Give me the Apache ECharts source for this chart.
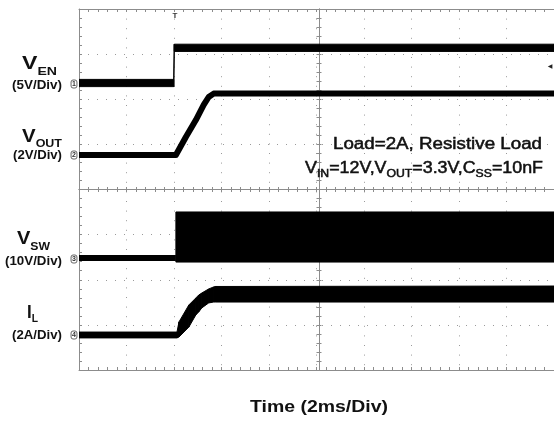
<!DOCTYPE html>
<html><head><meta charset="utf-8">
<script src="https://cdn.jsdelivr.net/npm/echarts@6/dist/echarts.min.js"></script>
<style>html,body{margin:0;padding:0;background:#fff}#c{width:554px;height:421px}</style>
</head><body><div id="c"></div>
<script>
// ---- Data (time in ms relative to trigger, 2 ms/div; values in V or A) ----
const timeMin = -4, timeMax = 16, timeStep = 2;
const divMin = 0, divMax = 8;

const venTime  = [-4, -0.01, 0.01, 16];
const venLow   = [-0.4, -0.4, 3.5, 3.5];
const venHigh  = [0.4, 0.4, 4.3, 4.3];

const voutTime  = [-4, 0.08, 0.5, 0.92, 1.25, 1.46, 1.67, 16];
const voutValue = [0, 0, 0.8, 1.55, 2.22, 2.57, 2.72, 2.72];

const vswIdleTime  = [-4, 0.08];
const vswIdleValue = [0, 0];
const vswSwTime = [0.08, 16];
const vswSwLow  = [-0.9, -0.9];
const vswSwHigh = [10.2, 10.2];

const ilTime  = [-4, 0.125, 0.21, 0.625, 0.92, 1.04, 1.17, 1.46, 1.67, 1.75, 16];
const ilUpper = [0.13, 0.13, 0.58, 1.33, 1.64, 1.77, 1.86, 2.04, 2.13, 2.15, 2.17];
const ilLower = [-0.13, -0.13, -0.09, 0.35, 0.89, 1.02, 1.20, 1.42, 1.46, 1.46, 1.46];

// channel ground marker (divisions from bottom) and units per division
const chVEN  = {offset: 6.36,  scale: 5};
const chVOUT = {offset: 4.765, scale: 2};
const chVSW  = {offset: 2.482, scale: 10};
const chIL   = {offset: 0.776, scale: 2};

// ---- Helpers ----
const toDiv = (ch, v) => ch.offset + v / ch.scale;
function linePts(times, vals, ch){ return times.map((t,i)=>[t, toDiv(ch, vals[i])]); }
function band(name, times, lower, upper, ch){
  const data = times.map((t,i)=>[t, toDiv(ch, lower[i]), toDiv(ch, upper[i])]);
  return {
    type:'custom', name:name, xAxisIndex:0, yAxisIndex:0, z:5, clip:true,
    encode:{x:0, y:[1,2]},
    data:data,
    renderItem:function(params, api){
      const i = params.dataIndex;
      if (i >= data.length-1) return null;
      const n = data[i+1];
      const p = [
        api.coord([api.value(0), api.value(1)]),
        api.coord([n[0], n[1]]),
        api.coord([n[0], n[2]]),
        api.coord([api.value(0), api.value(2)])
      ];
      return {type:'polygon', shape:{points:p},
        style:{fill:'#000', stroke:'#000', lineWidth:1}};
    }
  };
}

const FONT = '"Liberation Sans", Arial, sans-serif';
const mctx = document.createElement('canvas').getContext('2d');
function measure(t, size, weight){ mctx.font = weight+' '+size+'px '+FONT; return mctx.measureText(t).width; }
// pieces: [text, size, weight, centerY]
function run(left, right, pieces, thick){
  const widths = pieces.map(p=>measure(p[0], p[1], p[2]));
  const total = widths.reduce((a,b)=>a+b,0);
  const s = (right-left)/total;
  let x = left; const els = [];
  pieces.forEach((p,i)=>{
    const st = {text:p[0], fontSize:p[1], fontWeight:p[2], fontFamily:FONT, fill:'#111',
             align:'left', verticalAlign:'middle'};
    if (thick) { st.stroke = '#111'; st.lineWidth = thick; }
    els.push({type:'text', x:x, y:p[3], scaleX:s, silent:true, z:100, style:st});
    x += widths[i]*s;
  });
  return els;
}
function marker(txt, cx, cy){
  return {type:'text', x:cx, y:cy, silent:true, z:100,
    style:{text:txt, fontSize:7, fontWeight:'bold', fontFamily:FONT, fill:'#333',
      align:'center', verticalAlign:'middle', borderColor:'#666', borderWidth:1,
      borderRadius:2, padding:[1,1,0,1]}};
}

const B='bold', N='normal';
let graphics = [];
graphics = graphics.concat(
  run(22, 57, [['V',18,B,64.5],['EN',11,B,71.5]]),
  run(12, 62, [['(5V/Div)',12,B,86]]),
  run(22, 62, [['V',18,B,137],['OUT',11,B,143.5]]),
  run(13, 62, [['(2V/Div)',12,B,155.5]]),
  run(17, 50, [['V',18,B,239.5],['SW',11,B,247]]),
  run(5, 62, [['(10V/Div)',12,B,262]]),
  run(27, 38, [['I',18,B,313],['L',11,B,319]]),
  run(12, 62, [['(2A/Div)',12,B,336]]),
  run(333, 542, [['Load=2A, Resistive Load',16,N,145]], 0.5),
  run(305, 543, [['V',16,N,168.5],['IN',11,N,174],['=12V,V',16,N,168.5],['OUT',11,N,174],
                 ['=3.3V,C',16,N,168.5],['SS',11,N,174],['=10nF',16,N,168.5]], 0.5),
  run(250, 388, [['Time (2ms/Div)',17,B,407]])
);
graphics.push(marker('1',74,84), marker('2',74,155), marker('3',74,259), marker('4',74,335));
graphics.push({type:'text', x:175, y:16, silent:true, z:100,
  style:{text:'T', fontSize:8, fontWeight:'bold', fontFamily:FONT, fill:'#333', align:'center', verticalAlign:'middle'}});
graphics.push({type:'text', x:550, y:66, silent:true, z:100,
  style:{text:'◀', fontSize:6, fontFamily:'DejaVu Sans', fill:'#222', align:'center', verticalAlign:'middle'}});

// ---- Axes ----
const GRAY = '#8c8c8c';
const L = 79, T = 9, W = 480, H = 361;
const grids = [
  {left:L, top:T, width:W, height:H},
  {left:L, top:T, width:W, height:H/2},
  {left:L, top:T+H/2, width:W, height:H/2},
  {left:L, top:T, width:W/2, height:H},
  {left:L+W/2, top:T, width:W/2, height:H}
];
const baseX = {type:'value', min:timeMin, max:timeMax, interval:timeStep, axisLabel:{show:false}};
const baseY = {type:'value', min:divMin, max:divMax, interval:1, axisLabel:{show:false}};
const lineAx = (inside, len) => ({
  axisLine:{show:true, onZero:false, lineStyle:{color:GRAY, width:1}},
  axisTick:{show:true, inside:inside, length:len, lineStyle:{color:GRAY}},
  minorTick:{show:true, splitNumber:5, length:len, lineStyle:{color:GRAY}},
  splitLine:{show:false}
});
const hidden = {show:false};
const xAxes = [
  Object.assign({}, baseX, lineAx(true,3), {gridIndex:0, position:'bottom',
    splitLine:{show:true, lineStyle:{color:'#9a9a9a', width:1, type:[1,8.6]}}}),
  Object.assign({}, baseX, lineAx(true,3), {gridIndex:0, position:'top'}),
  Object.assign({}, baseX, lineAx(false,2.5), {gridIndex:1, position:'bottom'}),
  Object.assign({}, baseX, lineAx(false,2.5), {gridIndex:2, position:'top'}),
  Object.assign({}, baseX, hidden, {gridIndex:3}),
  Object.assign({}, baseX, hidden, {gridIndex:4})
];
const yAxes = [
  Object.assign({}, baseY, lineAx(true,3), {gridIndex:0, position:'left',
    splitLine:{show:true, lineStyle:{color:'#9a9a9a', width:1, type:[1,8.0]}}}),
  Object.assign({}, baseY, hidden, {gridIndex:1}),
  Object.assign({}, baseY, hidden, {gridIndex:2}),
  Object.assign({}, baseY, lineAx(false,2.5), {gridIndex:3, position:'right'}),
  Object.assign({}, baseY, lineAx(false,2.5), {gridIndex:4, position:'left'}),
];

const series = [
  band('ven', venTime, venLow, venHigh, chVEN),
  {type:'line', name:'vout', symbol:'none', z:5, xAxisIndex:0, yAxisIndex:0, clip:true,
    data: linePts(voutTime, voutValue, chVOUT),
    lineStyle:{color:'#000', width:6, join:'round'}},
  {type:'line', name:'vswIdle', symbol:'none', z:5, xAxisIndex:0, yAxisIndex:0, clip:true,
    data: linePts(vswIdleTime, vswIdleValue, chVSW),
    lineStyle:{color:'#000', width:6}},
  band('vsw', vswSwTime, vswSwLow, vswSwHigh, chVSW),
  band('il', ilTime, ilLower, ilUpper, chIL)
];

const chart = echarts.init(document.getElementById('c'), null, {renderer:'canvas'});
chart.setOption({
  animation:false,
  backgroundColor:'#fff',
  grid: grids,
  xAxis: xAxes,
  yAxis: yAxes,
  series: series,
  graphic: {elements: graphics}
});
</script>
</body></html>
